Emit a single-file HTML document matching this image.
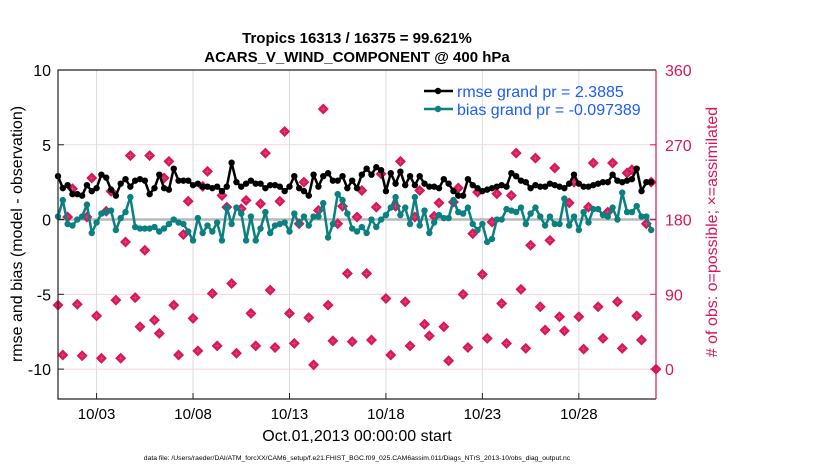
<!DOCTYPE html>
<html><head><meta charset="utf-8"><style>
body{margin:0;background:#fff;}
svg text{font-family:"Liberation Sans",sans-serif;}
</style></head><body>
<svg id="chart" width="830" height="470" viewBox="0 0 830 470" xmlns="http://www.w3.org/2000/svg">
<rect x="0" y="0" width="830" height="470" fill="#fff"/>
<g id="grid"></g>
<g id="marks"></g>
<g id="axes"></g>
<text x="357" y="43" text-anchor="middle" font-size="15" font-weight="bold">Tropics 16313 / 16375 = 99.621%</text>
<text x="357" y="62" text-anchor="middle" font-size="15" font-weight="bold">ACARS_V_WIND_COMPONENT @ 400 hPa</text>
<text transform="translate(22,234) rotate(-90)" text-anchor="middle" font-size="16">rmse and bias (model - observation)</text>
<text transform="translate(717,232) rotate(-90)" text-anchor="middle" font-size="16" fill="#d6175a"># of obs: o=possible; ×=assimilated</text>
<text x="357" y="441" text-anchor="middle" font-size="16">Oct.01,2013 00:00:00 start</text>
<text x="357" y="460" text-anchor="middle" font-size="6.8">data file: /Users/raeder/DAI/ATM_forcXX/CAM6_setup/f.e21.FHIST_BGC.f09_025.CAM6assim.011/Diags_NTrS_2013-10/obs_diag_output.nc</text>
<g>
<line x1="424" y1="91" x2="453" y2="91" stroke="#000" stroke-width="2.5"/>
<circle cx="438" cy="91" r="3.2" fill="#000"/>
<text x="457" y="97" font-size="16" fill="#1a5cff">rmse grand pr = 2.3885</text>
<line x1="424" y1="109" x2="453" y2="109" stroke="#0a8080" stroke-width="2.5"/>
<circle cx="438" cy="109" r="3.2" fill="#0a8080"/>
<text x="457" y="115" font-size="16" fill="#1a5cff">bias grand pr = -0.097389</text>
</g>
</svg>
<script>
const xTickLabels = ["10/03","10/08","10/13","10/18","10/23","10/28"];
const xTickDays = [2,7,12,17,22,27];
const leftTicks = [10,5,0,-5,-10];
const rightTicks = [360,270,180,90,0];
const rmse = [2.9,2.1,2.3,1.7,1.7,1.6,2.3,1.9,2.1,3.0,2.8,2.0,1.6,2.4,2.7,2.2,2.6,2.7,2.6,1.7,2.1,3.0,2.1,2.0,3.4,2.6,2.6,2.6,2.3,2.4,2.2,2.2,2.1,2.2,1.9,2.2,3.8,2.5,2.2,2.4,2.6,2.4,2.4,2.1,2.3,2.3,2.2,1.9,2.2,2.9,2.1,1.9,1.6,3.0,2.2,2.9,3.1,2.6,2.6,2.9,2.1,2.6,2.1,3.0,3.4,3.0,3.5,3.3,1.9,3.1,2.4,3.2,2.3,2.9,2.3,2.9,2.4,2.2,2.2,2.1,2.7,2.4,1.9,1.6,1.6,2.7,2.3,2.1,1.9,2.0,2.1,2.2,2.3,2.2,3.1,2.9,2.6,2.5,2.1,2.3,2.2,2.2,2.4,2.3,2.2,2.1,2.4,3.0,2.4,2.2,2.2,2.3,2.4,2.5,2.5,3.0,2.6,2.5,2.6,2.7,3.4,1.9,2.5,2.5];
const bias = [0.2,1.3,-0.3,-0.4,0,0.2,1.0,-0.9,-0.2,0.4,0.5,0.6,-0.7,0.1,0.5,1.5,-0.5,-0.6,-0.6,-0.6,-0.5,-0.8,-0.6,-0.3,0,-0.2,-0.3,-0.8,-1.4,0.1,-0.9,-0.4,-0.8,-0.2,-1.4,0.8,-0.3,0.8,0.4,-1.4,0.2,-1.4,-0.6,0.5,-0.9,-0.4,-0.3,-0.2,-0.8,0.4,-0.3,0.2,-0.4,0.2,0.2,1.1,-1.2,-0.3,1.7,1.3,0.4,-0.6,-0.8,-0.5,-0.9,0,-0.5,0,0.3,0.8,1.5,0.3,0.8,-0.3,1.5,-0.4,0.6,-0.9,-0.2,0.3,0.1,0.1,1.3,0.5,0.4,0.8,-0.3,-0.7,-0.3,-1.5,-1.3,0,0,0.7,0.6,0.5,0.8,-0.3,0.4,0.8,0.2,-0.4,0.2,-0.3,-0.3,1.4,-0.4,0.2,-0.7,0.5,-0.2,0.7,0.7,0.3,0.2,0.8,0,1.8,0.5,0.5,0.9,0.2,0.2,-0.7];
const counts = [77,17,183,217,78,16,183,230,64,13,190,214,83,13,153,257,86,51,143,257,59,43,230,250,77,17,162,202,61,22,220,238,91,28,209,195,103,19,193,203,67,28,199,260,95,26,202,286,67,31,175,225,62,5,191,313,77,34,175,196,115,33,183,215,115,35,195,235,85,17,196,250,81,28,183,215,54,40,184,200,51,10,201,218,90,26,163,213,114,37,177,211,79,31,209,260,96,25,149,254,75,47,155,242,63,46,200,225,63,24,195,248,75,37,189,248,81,25,236,240,64,35,175,225,0];

const L=58,R=656,T=70,B=399;
const xOfStep = i => L + (R-L)*(i/4)/31;
const xOfDay = d => L + (R-L)*d/31;
const yL = v => T + (10 - v)*(B-T)/22;
const yR = c => yL(-10 + c*(20/360));
const NS="http://www.w3.org/2000/svg";
function mk(tag, attrs, parent){const e=document.createElementNS(NS,tag);for(const k in attrs)e.setAttribute(k,attrs[k]);parent.appendChild(e);return e;}
const grid=document.getElementById('grid'), marks=document.getElementById('marks'), axes=document.getElementById('axes');

xTickDays.forEach((d,k)=>{
  const g=mk('line',{x1:xOfDay(d),x2:xOfDay(d),y1:T,y2:B,stroke:'#dcdcdc','stroke-width':1},grid);
  
  
  const t=mk('line',{x1:xOfDay(d),x2:xOfDay(d),y1:B,y2:B-6,stroke:'#222','stroke-width':1},axes);
  
  
  const lb=mk('text',{x:xOfDay(d),y:B+20,'text-anchor':'middle','font-size':15},axes);
  lb.textContent=xTickLabels[k];
  
  
});
rightTicks.forEach(c=>{
  if(c!==360){
    const g=mk('line',{x1:L,x2:R,y1:yR(c),y2:yR(c),stroke:'#f6d3de','stroke-width':1},grid);
    
    
  }
  const t=mk('line',{x1:R,x2:R-6,y1:yR(c),y2:yR(c),stroke:'#d6175a','stroke-width':1},axes);
  
  
  const lb=mk('text',{x:R+9,y:yR(c)+6,'font-size':16,fill:'#d6175a'},axes);
  lb.textContent=c;
  
  
});
leftTicks.forEach(v=>{
  const t=mk('line',{x1:L,x2:L+6,y1:yL(v),y2:yL(v),stroke:'#222','stroke-width':1},axes);
  
  
  const lb=mk('text',{x:L-7,y:yL(v)+6,'text-anchor':'end','font-size':16},axes);
  lb.textContent=v;
  
  
});
const zl=mk('line',{x1:L,x2:R,y1:yL(0),y2:yL(0),stroke:'#b8b8b8','stroke-width':2.5},grid);



counts.forEach((c,i)=>{
  const x=xOfStep(i), y=yR(c);
  const d=mk('path',{d:`M${x} ${y-5.5}L${x+5.5} ${y}L${x} ${y+5.5}L${x-5.5} ${y}Z`,fill:'#d6175a'},marks);
  
  
  const p=mk('path',{d:`M${x-2.5} ${y}H${x+2.5}M${x} ${y-2.5}V${y+2.5}`,stroke:'#e04a80','stroke-width':0.8},marks);
  
  
});
function series(arr,color,name){
  const pts=arr.map((v,i)=>xOfStep(i).toFixed(1)+','+yL(v).toFixed(1)).join(' ');
  const pl=mk('polyline',{points:pts,fill:'none',stroke:color,'stroke-width':2.5,'stroke-linejoin':'round'},marks);
  
  
  arr.forEach((v,i)=>{
    const c=mk('circle',{cx:xOfStep(i),cy:yL(v),r:3.2,fill:color},marks);
    
    
  });
}
series(bias,'#0a8080','bias');
series(rmse,'#000','rmse');

const f1=mk('path',{d:`M${R} ${T}H${L}V${B}H${R}`,fill:'none',stroke:'#222','stroke-width':1.2},axes);


const ra=mk('line',{x1:R,x2:R,y1:T,y2:B,stroke:'#d6175a','stroke-width':1.2},axes);


</script>
</body></html>
